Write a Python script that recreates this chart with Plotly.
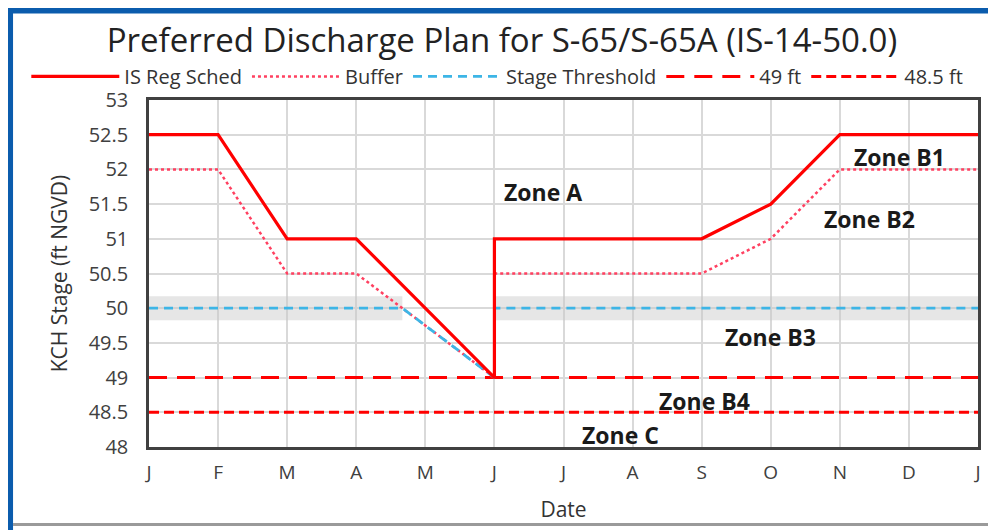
import plotly.graph_objects as go

# ---- data ----
month_pos = list(range(13))
month_labels = ["J", "F", "M", "A", "M", "J", "J", "A", "S", "O", "N", "D", "J"]

sched_x = [0, 1, 2, 3, 5, 5, 8, 9, 10, 12]
sched_y = [52.5, 52.5, 51, 51, 49, 51, 51, 51.5, 52.5, 52.5]

buffer_x = [0, 1, 2, 3, 5, 5, 8, 9, 10, 12]
buffer_y = [52, 52, 50.5, 50.5, 49, 50.5, 50.5, 51, 52, 52]

threshold_x = [0, 3.667, 5, 5, 12]
threshold_y = [50, 50, 49, 50, 50]

band_x = [0, 3.667, None, 5, 12]
band_y = [50, 50, None, 50, 50]

line49_x = [0, 12]
line49_y = [49, 49]
line485_x = [0, 12]
line485_y = [48.5, 48.5]

zone_labels = ["Zone A", "Zone B1", "Zone B2", "Zone B3", "Zone B4", "Zone C"]
zone_x = [5.7, 10.87, 10.43, 9.0, 8.04, 6.83]
zone_y = [51.67, 52.18, 51.28, 49.59, 48.67, 48.17]

FONT = "Open Sans"

fig = go.Figure()

fig.add_trace(go.Scatter(x=band_x, y=band_y, mode="lines", showlegend=False,
                         hoverinfo="skip",
                         line=dict(color="rgba(200,200,200,0.45)", width=24)))
fig.add_trace(go.Scatter(x=line485_x, y=line485_y, mode="lines", name="48.5 ft",
                         legendrank=5,
                         line=dict(color="#FF0000", width=3, dash="10px,5px")))
fig.add_trace(go.Scatter(x=line49_x, y=line49_y, mode="lines", name="49 ft",
                         legendrank=4,
                         line=dict(color="#FF0000", width=3, dash="18px,10px")))
fig.add_trace(go.Scatter(x=buffer_x, y=buffer_y, mode="lines", name="Buffer",
                         legendrank=2,
                         line=dict(color="#FF4060", width=2.5, dash="dot")))
fig.add_trace(go.Scatter(x=threshold_x, y=threshold_y, mode="lines", name="Stage Threshold",
                         legendrank=3,
                         line=dict(color="#3DB5E6", width=2.8, dash="9px,6px")))
fig.add_trace(go.Scatter(x=sched_x, y=sched_y, mode="lines", name="IS Reg Sched",
                         legendrank=1,
                         line=dict(color="#FF0000", width=3.2)))

for t, x, y in zip(zone_labels, zone_x, zone_y):
    fig.add_annotation(x=x, y=y, text="<b>" + t + "</b>", showarrow=False,
                       font=dict(family=FONT, size=23, color="#1a1a1a"))

# frame decorations (blue window border)
fig.add_shape(type="rect", xref="paper", yref="paper",
              x0=-0.18, x1=-0.164, y0=-0.26, y1=1.28,
              fillcolor="#0B5CAD", line=dict(width=0), layer="above")
fig.add_shape(type="rect", xref="paper", yref="paper",
              x0=-0.18, x1=1.03, y0=1.2493, y1=1.28,
              fillcolor="#0B5CAD", line=dict(width=0), layer="above")
fig.add_shape(type="line", xref="paper", yref="paper",
              x0=-0.164, x1=1.03, y0=-0.2235, y1=-0.2235,
              line=dict(color="#9a9a9a", width=3))

fig.update_layout(
    width=988, height=522,
    margin=dict(l=141, r=18, t=92, b=81),
    paper_bgcolor="white", plot_bgcolor="white",
    title=dict(text="Preferred Discharge Plan for S-65/S-65A (IS-14-50.0)",
               x=0.5, xanchor="center", y=0.9387, yanchor="middle",
               font=dict(family=FONT, size=33, color="#222222")),
    legend=dict(orientation="h", x=-0.148, xanchor="left", y=1.068, yanchor="middle",
                font=dict(family=FONT, size=20, color="#333333"),
                itemwidth=88, bgcolor="rgba(0,0,0,0)"),
    font=dict(family=FONT, color="#404040"),
    showlegend=True,
)

fig.update_xaxes(range=[0, 12], tickvals=month_pos, ticktext=month_labels,
                 showgrid=True, gridcolor="#d9d9d9", gridwidth=1.5,
                 showline=True, linecolor="#404040", linewidth=2.5, mirror=True,
                 ticks="", ticklabelstandoff=6, zeroline=False,
                 tickfont=dict(family=FONT, size=19, color="#404040"),
                 title=dict(text="Date", font=dict(family=FONT, size=21, color="#333333"),
                            standoff=19))
fig.update_yaxes(range=[48, 53], dtick=0.5, tick0=48,
                 showgrid=True, gridcolor="#d9d9d9", gridwidth=1.5,
                 showline=True, linecolor="#404040", linewidth=2.5, mirror=True,
                 ticks="", ticklabelstandoff=14, zeroline=False,
                 tickfont=dict(family=FONT, size=20, color="#404040"),
                 title=dict(text="KCH Stage (ft NGVD)", font=dict(family=FONT, size=21, color="#333333"),
                            standoff=16))

fig.write_html("out.html")
